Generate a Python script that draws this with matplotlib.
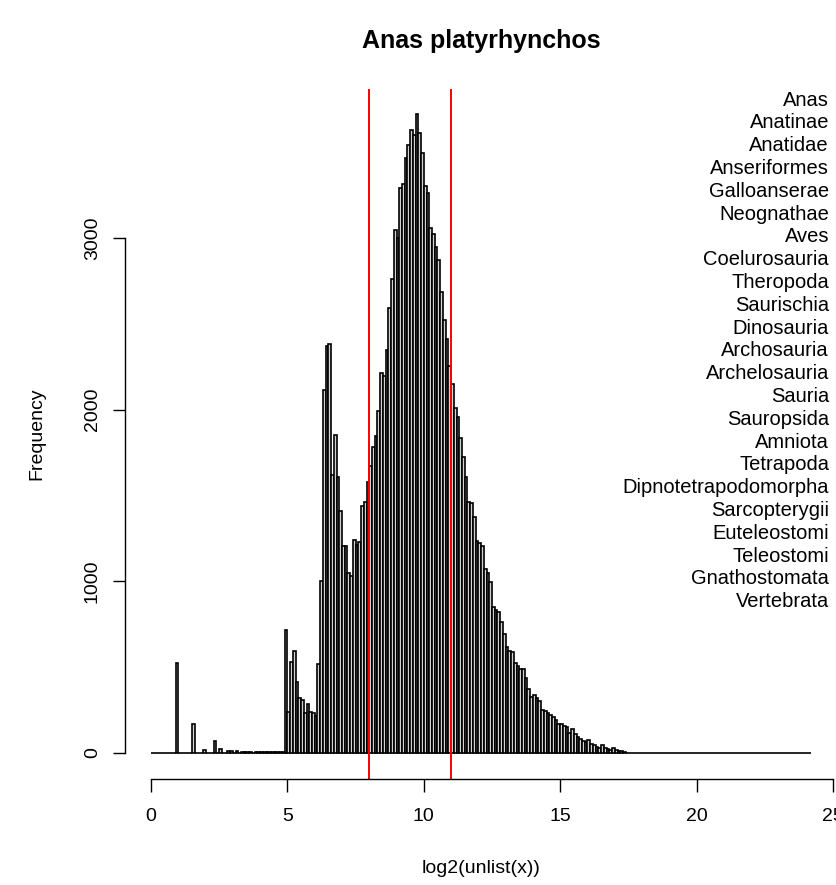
import matplotlib
matplotlib.use("Agg")
import matplotlib.pyplot as plt
import numpy as np

plt.rcParams["font.family"] = ["Liberation Sans", "DejaVu Sans"]

# histogram of log2(unlist(x)), bins of width 0.1 from 0 to 24.2
bin_start = 0.0
bin_width = 0.1
counts = [
    0, 0, 0, 0, 0, 0, 0, 0, 0, 525,
    0, 0, 0, 0, 0, 167, 0, 0, 0, 20,
    0, 0, 0, 70, 0, 23, 0, 0, 12, 12,
    0, 10, 0, 6, 5, 5, 4, 0, 4, 6,
    4, 4, 3, 5, 3, 5, 4, 6, 6, 718,
    239, 530, 594, 413, 322, 310, 235, 283, 239, 235,
    214, 520, 1000, 2116, 2369, 2384, 1621, 1854, 1607, 1408,
    1204, 1204, 1048, 1029, 1239, 1213, 1227, 1437, 1460, 1580,
    1671, 1782, 1846, 1989, 2215, 2197, 2345, 2590, 2761, 3048,
    2999, 3293, 3313, 3465, 3538, 3627, 3602, 3720, 3612, 3497,
    3300, 3264, 3055, 3023, 2949, 2871, 2687, 2523, 2410, 2253,
    2150, 2007, 1955, 1836, 1722, 1609, 1464, 1454, 1376, 1235,
    1221, 1206, 1070, 1050, 998, 850, 835, 823, 762, 693,
    615, 596, 590, 526, 507, 487, 487, 439, 371, 328,
    338, 318, 305, 250, 247, 231, 221, 208, 192, 170,
    170, 158, 150, 116, 142, 109, 93, 80, 68, 64,
    74, 50, 45, 35, 31, 45, 31, 21, 19, 31,
    16, 12, 10, 4, 2, 0, 0, 0, 0, 0,
    0, 0, 0, 0, 0, 0, 0, 0, 0, 0,
    0, 0, 0, 0, 0, 0, 0, 0, 0, 0,
    0, 0, 0, 0, 0, 0, 0, 0, 0, 0,
    0, 0, 0, 0, 0, 0, 0, 0, 0, 0,
    0, 0, 0, 0, 0, 0, 0, 0, 0, 0,
    0, 0, 0, 0, 0, 0, 0, 0, 0, 0,
    0, 0,
]
cutoffs = [8, 11]
x_ticks = [0, 5, 10, 15, 20, 25]
y_ticks = [0, 1000, 2000, 3000]
title = "Anas platyrhynchos"
x_label = "log2(unlist(x))"
y_label = "Frequency"
lineage = [
    "Anas", "Anatinae", "Anatidae", "Anseriformes", "Galloanserae",
    "Neognathae", "Aves", "Coelurosauria", "Theropoda", "Saurischia",
    "Dinosauria", "Archosauria", "Archelosauria", "Sauria", "Sauropsida",
    "Amniota", "Tetrapoda", "Dipnotetrapodomorpha", "Sarcopterygii",
    "Euteleostomi", "Teleostomi", "Gnathostomata", "Vertebrata",
]

W, H = 836, 885
fig = plt.figure(figsize=(W / 100, H / 100), dpi=100)

# plot region in pixels (R style layout)
left_px, right_px = 124.6, 837.6
top_px, bottom_px = 88.7, 778.5
ax = fig.add_axes([left_px / W, 1 - bottom_px / H,
                   (right_px - left_px) / W, (bottom_px - top_px) / H])

edges = bin_start + bin_width * np.arange(len(counts) + 1)
ax.bar(edges[:-1], counts, width=np.diff(edges), align="edge",
       facecolor="lightgray", edgecolor="black", linewidth=1.2)

# R pads the ranges by 4 %
xpad = 0.04 * (edges[-1] - edges[0])
ymax = max(counts)
ax.set_xlim(edges[0] - xpad, edges[-1] + xpad)
ax.set_ylim(-0.04 * ymax, 1.04 * ymax)

for c in cutoffs:
    ax.axvline(c, color="red", linewidth=1.4)

for side in ["top", "right"]:
    ax.spines[side].set_visible(False)
ax.spines["bottom"].set_bounds(x_ticks[0], x_ticks[-1])
ax.spines["left"].set_bounds(y_ticks[0], y_ticks[-1])
ax.spines["bottom"].set_linewidth(1.0)
ax.spines["left"].set_linewidth(1.0)

ax.set_xticks(x_ticks)
ax.set_yticks(y_ticks)
ax.set_yticklabels([str(v) for v in y_ticks], rotation=90, va="center")
ax.tick_params(axis="both", length=9, width=1.0, labelsize=14)
ax.tick_params(axis="x", pad=12)
ax.tick_params(axis="y", pad=8)
ax.patch.set_visible(False)

ax.text(0.5, -0.131, x_label, transform=ax.transAxes, ha="center",
        va="center", fontsize=14)
ax.text(-(left_px - 37) / (right_px - left_px), 0.5, y_label,
        transform=ax.transAxes, rotation=90, ha="center", va="center",
        fontsize=14)
fig.text((left_px + right_px) / 2 / W, 1 - 41 / H, title, ha="center",
         va="center", fontsize=18, fontweight="bold")

for i, name in enumerate(lineage):
    fig.text(829 / W, 1 - (100 + 22.8 * i) / H, name, ha="right",
             va="center", fontsize=14.5)

fig.savefig("out.png", dpi=100)
